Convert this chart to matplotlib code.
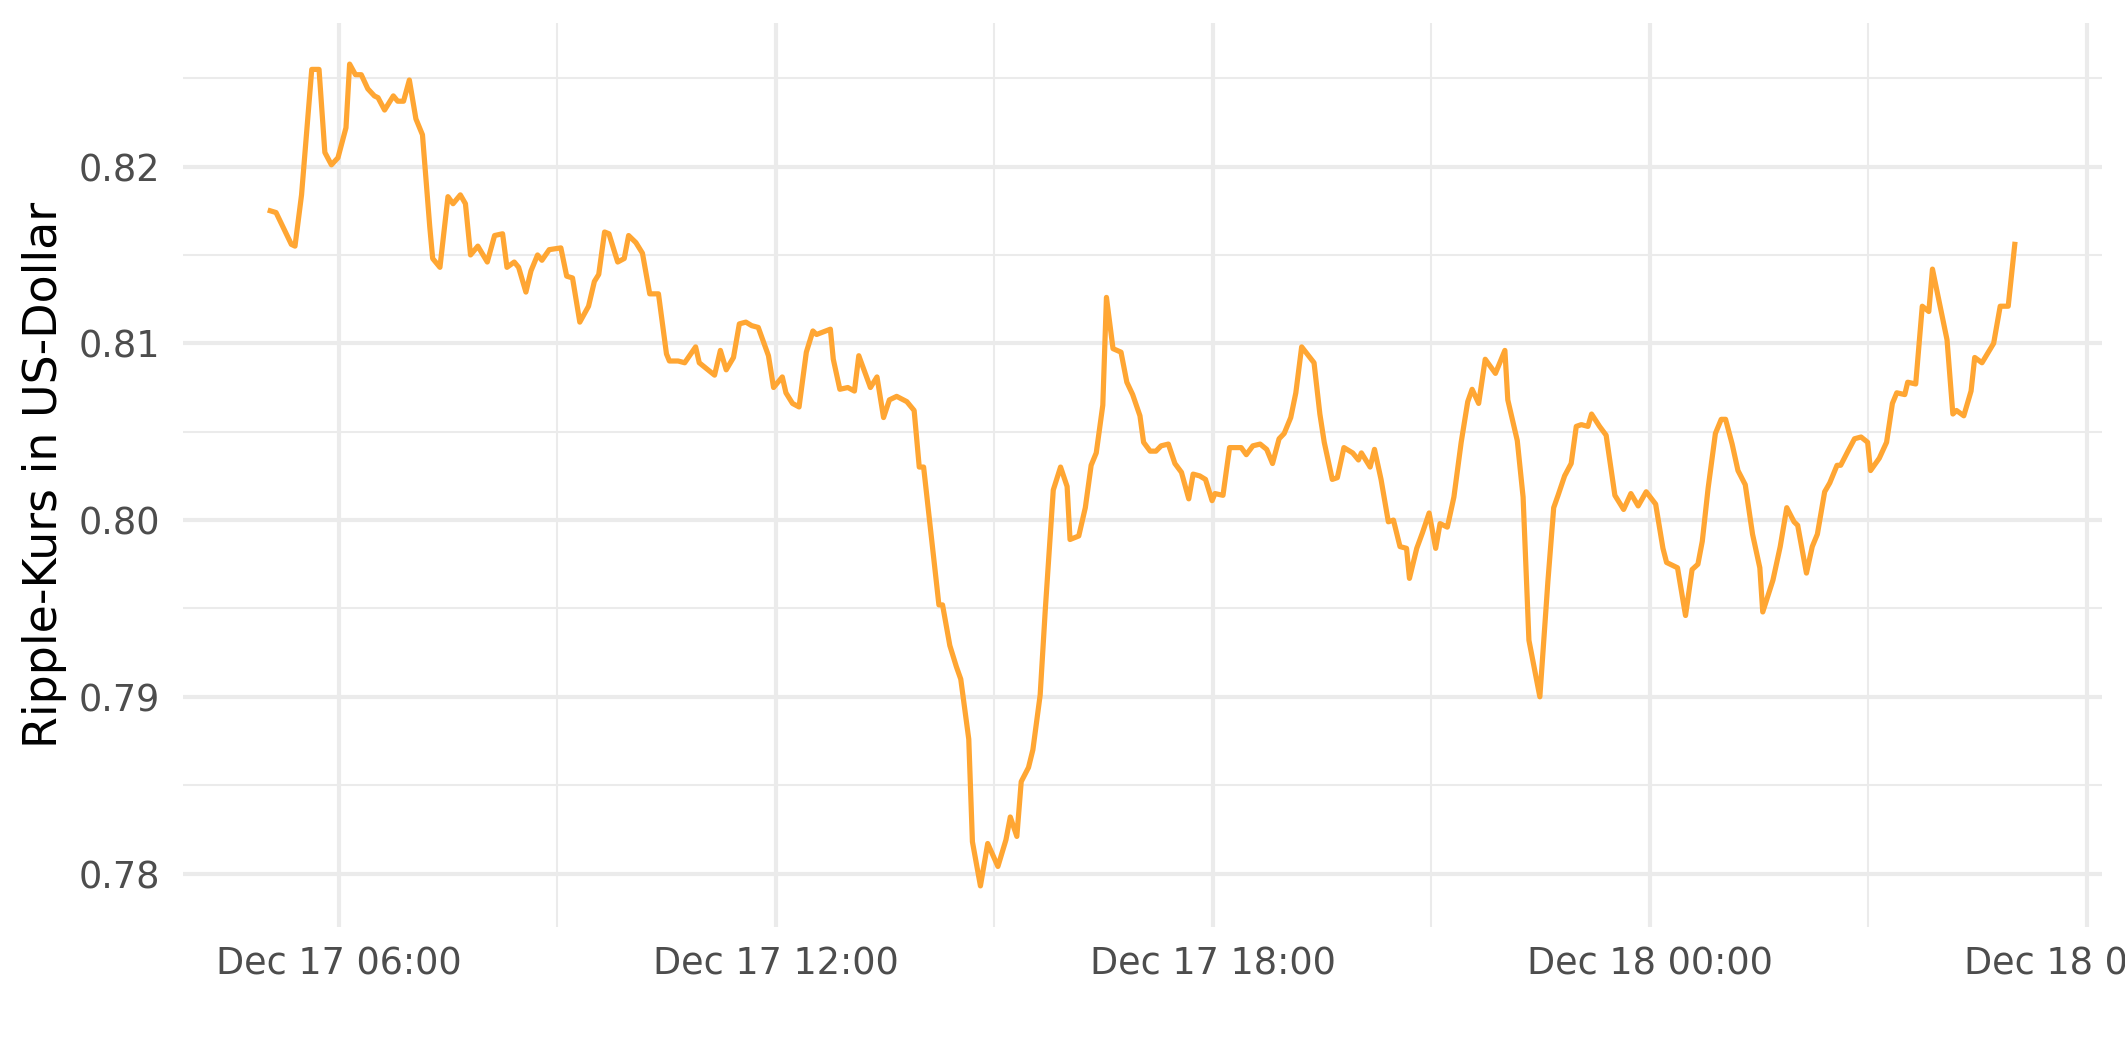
import matplotlib
matplotlib.use("Agg")
import matplotlib.pyplot as plt
import matplotlib.dates as mdates
import pandas as pd

# hours after 2017-12-17 00:00
hours = [5.06, 5.14, 5.35, 5.40, 5.49, 5.63, 5.73, 5.81, 5.90, 5.99,
         6.10, 6.15, 6.23, 6.31, 6.40, 6.49, 6.54, 6.63, 6.75, 6.81,
         6.89, 6.97, 7.06, 7.15, 7.25, 7.29, 7.39, 7.50, 7.57, 7.67,
         7.74, 7.81, 7.91, 8.04, 8.14, 8.25, 8.31, 8.41, 8.47, 8.57,
         8.64, 8.73, 8.79, 8.89, 9.05, 9.13, 9.21, 9.31, 9.43, 9.51,
         9.57, 9.65, 9.71, 9.83, 9.92, 9.98, 10.08, 10.17, 10.27, 10.39,
         10.50, 10.54, 10.66, 10.75, 10.90, 10.95, 11.16, 11.24, 11.32, 11.42,
         11.50, 11.59, 11.67, 11.76, 11.90, 11.97, 12.09, 12.14, 12.23, 12.32,
         12.42, 12.51, 12.56, 12.75, 12.79, 12.88, 12.99, 13.08, 13.14, 13.30,
         13.39, 13.48, 13.56, 13.66, 13.80, 13.90, 13.97, 14.03, 14.24, 14.29,
         14.39, 14.48, 14.54, 14.65, 14.70, 14.81, 14.91, 15.05, 15.16, 15.22,
         15.31, 15.37, 15.47, 15.53, 15.63, 15.70, 15.81, 15.91, 16.00, 16.04,
         16.16, 16.25, 16.33, 16.40, 16.49, 16.54, 16.63, 16.74, 16.82, 16.90,
         17.00, 17.05, 17.14, 17.22, 17.29, 17.39, 17.48, 17.57, 17.67, 17.73,
         17.82, 17.90, 17.99, 18.03, 18.14, 18.23, 18.28, 18.39, 18.46, 18.55,
         18.65, 18.74, 18.82, 18.91, 18.98, 19.07, 19.14, 19.22, 19.39, 19.47,
         19.53, 19.64, 19.71, 19.80, 19.92, 20.00, 20.04, 20.16, 20.22, 20.31,
         20.41, 20.48, 20.57, 20.66, 20.70, 20.80, 20.88, 20.97, 21.06, 21.12,
         21.22, 21.31, 21.41, 21.50, 21.56, 21.65, 21.74, 21.88, 22.01, 22.05,
         22.18, 22.26, 22.34, 22.49, 22.60, 22.68, 22.74, 22.83, 22.92, 22.99,
         23.06, 23.15, 23.20, 23.31, 23.40, 23.52, 23.64, 23.74, 23.84, 23.95,
         24.08, 24.18, 24.23, 24.38, 24.49, 24.58, 24.66, 24.72, 24.80, 24.90,
         24.98, 25.04, 25.13, 25.21, 25.31, 25.41, 25.51, 25.55, 25.69, 25.79,
         25.88, 25.98, 26.03, 26.15, 26.23, 26.30, 26.40, 26.47, 26.57, 26.62,
         26.72, 26.81, 26.90, 26.99, 27.03, 27.15, 27.25, 27.33, 27.39, 27.50,
         27.54, 27.65, 27.74, 27.83, 27.88, 28.08, 28.16, 28.21, 28.31, 28.41,
         28.46, 28.56, 28.72, 28.81, 28.92, 29.01]

price = [0.8175, 0.8174, 0.8156, 0.8155, 0.8184, 0.8255, 0.8255, 0.8208, 0.8201, 0.8205,
         0.8222, 0.8258, 0.8252, 0.8252, 0.8244, 0.8240, 0.8239, 0.8232, 0.8240, 0.8237,
         0.8237, 0.8249, 0.8227, 0.8218, 0.8166, 0.8148, 0.8143, 0.8183, 0.8179, 0.8184,
         0.8179, 0.8150, 0.8155, 0.8146, 0.8161, 0.8162, 0.8143, 0.8146, 0.8143, 0.8129,
         0.8141, 0.8150, 0.8147, 0.8153, 0.8154, 0.8138, 0.8137, 0.8112, 0.8121, 0.8135,
         0.8139, 0.8163, 0.8162, 0.8146, 0.8148, 0.8161, 0.8157, 0.8151, 0.8128, 0.8128,
         0.8094, 0.8090, 0.8090, 0.8089, 0.8098, 0.8089, 0.8082, 0.8096, 0.8085, 0.8092,
         0.8111, 0.8112, 0.8110, 0.8109, 0.8093, 0.8075, 0.8081, 0.8072, 0.8066, 0.8064,
         0.8095, 0.8107, 0.8105, 0.8108, 0.8091, 0.8074, 0.8075, 0.8073, 0.8093, 0.8075,
         0.8081, 0.8058, 0.8068, 0.8070, 0.8067, 0.8062, 0.8030, 0.8030, 0.7952, 0.7952,
         0.7929, 0.7917, 0.7910, 0.7876, 0.7818, 0.7793, 0.7817, 0.7804, 0.7819, 0.7832,
         0.7821, 0.7852, 0.7860, 0.7870, 0.7901, 0.7949, 0.8017, 0.8030, 0.8019, 0.7989,
         0.7991, 0.8007, 0.8031, 0.8038, 0.8065, 0.8126, 0.8097, 0.8095, 0.8078, 0.8071,
         0.8059, 0.8044, 0.8039, 0.8039, 0.8042, 0.8043, 0.8032, 0.8027, 0.8012, 0.8026,
         0.8025, 0.8023, 0.8011, 0.8015, 0.8014, 0.8041, 0.8041, 0.8041, 0.8037, 0.8042,
         0.8043, 0.8040, 0.8032, 0.8046, 0.8049, 0.8058, 0.8072, 0.8098, 0.8089, 0.8060,
         0.8044, 0.8023, 0.8024, 0.8041, 0.8038, 0.8034, 0.8038, 0.8030, 0.8040, 0.8023,
         0.7999, 0.8000, 0.7985, 0.7984, 0.7967, 0.7984, 0.7993, 0.8004, 0.7984, 0.7998,
         0.7996, 0.8013, 0.8044, 0.8067, 0.8074, 0.8066, 0.8091, 0.8083, 0.8096, 0.8068,
         0.8045, 0.8013, 0.7932, 0.7900, 0.7965, 0.8007, 0.8014, 0.8025, 0.8032, 0.8053,
         0.8054, 0.8053, 0.8060, 0.8053, 0.8048, 0.8014, 0.8006, 0.8015, 0.8008, 0.8016,
         0.8009, 0.7984, 0.7976, 0.7973, 0.7946, 0.7972, 0.7975, 0.7988, 0.8018, 0.8049,
         0.8057, 0.8057, 0.8043, 0.8028, 0.8020, 0.7992, 0.7973, 0.7948, 0.7966, 0.7985,
         0.8007, 0.7999, 0.7997, 0.7970, 0.7985, 0.7992, 0.8016, 0.8021, 0.8031, 0.8031,
         0.8039, 0.8046, 0.8047, 0.8044, 0.8028, 0.8035, 0.8044, 0.8066, 0.8072, 0.8071,
         0.8078, 0.8077, 0.8121, 0.8118, 0.8142, 0.8102, 0.8060, 0.8062, 0.8059, 0.8073,
         0.8092, 0.8089, 0.8100, 0.8121, 0.8121, 0.8156]

y_ticks = [0.78, 0.79, 0.80, 0.81, 0.82]
y_minor = [0.785, 0.795, 0.805, 0.815, 0.825]

times = pd.Timestamp("2017-12-17") + pd.to_timedelta(hours, unit="h")

fig = plt.figure(figsize=(2125 / 300, 1062 / 300), dpi=300)
ax = fig.add_axes([183 / 2125, 1 - 927 / 1062, (2102 - 183) / 2125, (927 - 23) / 1062])

ax.plot(times, price, color="#FFA633", linewidth=1.25, zorder=3)

ax.xaxis.set_major_locator(mdates.HourLocator(byhour=[0, 6, 12, 18]))
ax.xaxis.set_minor_locator(mdates.HourLocator(byhour=[3, 9, 15, 21]))
ax.xaxis.set_major_formatter(mdates.DateFormatter("%b %d %H:%M"))
ax.set_yticks(y_ticks)
ax.set_yticklabels(["0.78", "0.79", "0.80", "0.81", "0.82"])
ax.set_yticks(y_minor, minor=True)

ax.grid(which="major", color="#EBEBEB", linewidth=1.0)
ax.grid(which="minor", color="#EBEBEB", linewidth=0.5)
ax.set_axisbelow(True)
for s in ax.spines.values():
    s.set_visible(False)
ax.tick_params(which="both", length=0)
ax.tick_params(axis="x", labelsize=8.8, labelcolor="#4D4D4D", pad=4.5)
ax.tick_params(axis="y", labelsize=8.8, labelcolor="#4D4D4D", pad=5.5)

ax.set_ylabel("Ripple-Kurs in US-Dollar", fontsize=11, color="black", labelpad=2.8)

fig.savefig("out.png", dpi=300)
